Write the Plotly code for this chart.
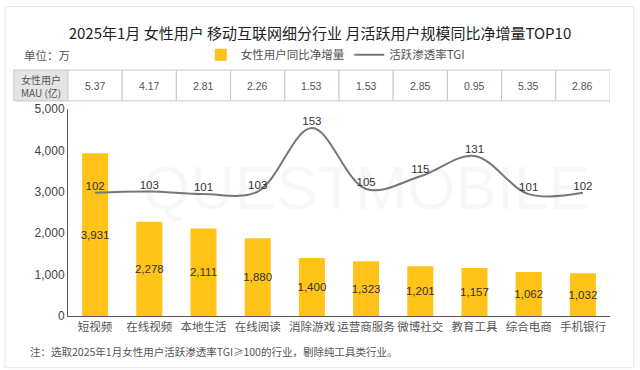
import plotly.graph_objects as go

categories = ["短视频", "在线视频", "本地生活", "在线阅读", "消除游戏", "运营商服务", "微博社交", "教育工具", "综合电商", "手机银行"]
net_increase = [3931, 2278, 2111, 1880, 1400, 1323, 1201, 1157, 1062, 1032]
tgi = [102, 103, 101, 103, 153, 105, 115, 131, 101, 102]
mau = ["5.37", "4.17", "2.81", "2.26", "1.53", "1.53", "2.85", "0.95", "5.35", "2.86"]
y_ticks = [0, 1000, 2000, 3000, 4000, 5000]

FONT = "Noto Sans CJK SC, Liberation Sans, sans-serif"
NUMFONT = "Liberation Sans, Arial, sans-serif"

fig = go.Figure()
fig.add_trace(go.Bar(
    x=categories, y=net_increase, name="女性用户同比净增量",
    marker=dict(color="#FFC31A", line=dict(width=0)), width=0.48,
    text=[f"{v:,}" for v in net_increase], textposition="inside",
    insidetextanchor="middle", textangle=0, constraintext="none",
    textfont=dict(color="#333333", size=11.5, family=NUMFONT),
    cliponaxis=False,
))
fig.add_trace(go.Scatter(
    x=categories, y=tgi, name="活跃渗透率TGI", yaxis="y2",
    mode="lines+text", line=dict(color="#777777", width=2, shape="spline", smoothing=1.0),
    text=[str(v) for v in tgi], textposition="top center",
    textfont=dict(color="#333333", size=11.5, family=NUMFONT),
    cliponaxis=False,
))

shapes = []
annotations = []
# table
y_top, y_bot = 1.188, 1.039
cell_w = 1 / len(categories)
shapes.append(dict(type="rect", xref="paper", yref="paper", x0=-cell_w, x1=0, y0=y_bot, y1=y_top,
                   fillcolor="#E4E4E4", line=dict(color="#C8C8C8", width=1), layer="below"))
annotations.append(dict(xref="paper", yref="paper", x=-cell_w / 2, y=(y_top + y_bot) / 2,
                        xanchor="center", yanchor="middle",
                        text="女性用户<br>MAU (亿)", showarrow=False,
                        font=dict(size=10, color="#555555", family=FONT), align="center"))
for i, v in enumerate(mau):
    shapes.append(dict(type="rect", xref="x", yref="paper", x0=i - 0.5, x1=i + 0.5, y0=y_bot, y1=y_top,
                       fillcolor="white", line=dict(color="#C8C8C8", width=1), layer="below"))
    annotations.append(dict(xref="x", yref="paper", x=categories[i], y=(y_top + y_bot) / 2,
                            xanchor="center", yanchor="middle",
                            text=v, showarrow=False,
                            font=dict(size=10.5, color="#555555", family=NUMFONT)))

# outer frame
shapes.append(dict(type="rect", xref="paper", yref="paper", x0=-0.116, x1=1.044, y0=-0.25, y1=1.495,
                   line=dict(color="#E6E6E6", width=1), fillcolor="rgba(0,0,0,0)", layer="below"))

annotations.append(dict(xref="paper", yref="paper", x=-0.085, y=1.262, xanchor="left", yanchor="middle",
                        text="单位：万", showarrow=False, font=dict(size=11.5, color="#555555", family=FONT)))
annotations.append(dict(xref="paper", yref="paper", x=-0.074, y=-0.17, xanchor="left", yanchor="middle",
                        text="注：选取2025年1月女性用户活跃渗透率TGI≥100的行业，剔除纯工具类行业。", showarrow=False,
                        font=dict(size=10.5, color="#555555", family=FONT)))
# watermark
annotations.append(dict(xref="paper", yref="paper", x=0.55, y=0.62, xanchor="center", yanchor="middle",
                        text="QUESTMOBILE", showarrow=False,
                        font=dict(size=62, color="rgba(0,0,0,0.03)", family=NUMFONT)))

fig.update_layout(
    width=640, height=370,
    margin=dict(l=68, r=30, t=109, b=54, autoexpand=False),
    paper_bgcolor="white", plot_bgcolor="white",
    title=dict(text="2025年1月 女性用户 移动互联网细分行业 月活跃用户规模同比净增量TOP10",
               x=0.5, xanchor="center", y=0.91, yanchor="middle",
               font=dict(size=15, color="#222222", family=FONT)),
    font=dict(family=FONT, color="#333333"),
    showlegend=True,
    legend=dict(orientation="h", x=0.245, y=1.262, xanchor="left", yanchor="middle",
                font=dict(size=11.5, color="#555555", family=FONT), bgcolor="rgba(0,0,0,0)",
                itemwidth=30, tracegroupgap=0),
    xaxis=dict(showline=True, linecolor="#555555", linewidth=1, ticks="", showgrid=False,
               tickangle=0, tickfont=dict(size=11.5, color="#555555", family=FONT), range=[-0.5, 9.5]),
    yaxis=dict(range=[0, 5000], tickvals=y_ticks, tickformat=",", showgrid=False, zeroline=False,
               showline=True, linecolor="#555555", linewidth=1, ticks="",
               tickfont=dict(size=12, color="#444444", family=NUMFONT)),
    yaxis2=dict(overlaying="y", side="right", range=[5, 168], visible=False),
    shapes=shapes, annotations=annotations, bargap=0.5,
)

fig.write_html("out.html", config={"displayModeBar": False},
               post_script="document.body.style.margin='0';document.body.style.overflow='hidden';")
